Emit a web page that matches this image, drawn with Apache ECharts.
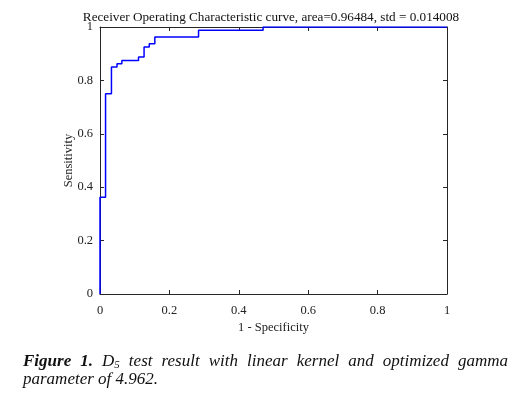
<!DOCTYPE html>
<html><head><meta charset="utf-8">
<script src="https://cdn.jsdelivr.net/npm/echarts@6/dist/echarts.min.js"></script>
<style>html,body{margin:0;padding:0;background:#fff}#c{width:519px;height:396px}</style>
</head><body><div id="c"></div>
<script>
// ROC curve corner points (1 - specificity, sensitivity)
var fpr = [0, 0, 0.016, 0.016, 0.033, 0.033, 0.049, 0.049, 0.063, 0.063, 0.111, 0.111, 0.127, 0.127, 0.142, 0.142, 0.158, 0.158, 0.284, 0.284, 0.470, 0.470, 1];
var tpr = [0, 0.3625, 0.3625, 0.75, 0.75, 0.85, 0.85, 0.8625, 0.8625, 0.875, 0.875, 0.8875, 0.8875, 0.925, 0.925, 0.9375, 0.9375, 0.9625, 0.9625, 0.9875, 0.9875, 1, 1];
var titleText = 'Receiver Operating Characteristic curve, area=0.96484, std = 0.014008';
var xName = '1 - Specificity';
var yName = 'Sensitivity';
var captionLine1 = ['Figure', '1.', 'D_5', 'test', 'result', 'with', 'linear', 'kernel', 'and', 'optimized', 'gamma'];
var captionLine2 = 'parameter of 4.962.';

var pts = fpr.map(function (x, i) { return [x, tpr[i]]; });
var serif = '"Liberation Serif", "DejaVu Serif", serif';
var axisCol = '#262626';
function fmt(v) { return String(v); }
function mkAxis(pos, show, isX) {
  return {
    type: 'value', min: 0, max: 1, interval: 0.2, position: pos,
    axisLine: { show: true, onZero: false, lineStyle: { color: axisCol, width: 1 } },
    axisTick: { show: true, inside: true, length: 4, lineStyle: { color: axisCol } },
    axisLabel: { show: show, color: '#222', fontFamily: serif, fontSize: 12.5, margin: isX ? 10 : 7,
      padding: isX ? 0 : [4, 0, 0, 0], formatter: fmt },
    splitLine: { show: false }
  };
}
var xb = mkAxis('bottom', true, true);
xb.name = xName; xb.nameLocation = 'middle'; xb.nameGap = 27; xb.nameMoveOverlap = false;
xb.nameTextStyle = { fontFamily: serif, fontSize: 12.5, color: '#222' };
var yl = mkAxis('left', true, false);
yl.name = yName; yl.nameLocation = 'middle'; yl.nameGap = 25; yl.nameMoveOverlap = false;
yl.nameTextStyle = { fontFamily: serif, fontSize: 12.5, color: '#222' };

// justified caption line 1
var FS = 17, L = 23, R = 508;
var ctx = document.createElement('canvas').getContext('2d');
function wordStyle(i) { return (i < 2 ? 'italic bold ' : 'italic ') + FS + 'px ' + serif; }
function wordWidth(w, i) {
  ctx.font = wordStyle(i);
  if (w === 'D_5') {
    var a = ctx.measureText('D').width;
    ctx.font = 'italic 11px ' + serif;
    return a + ctx.measureText('5').width;
  }
  return ctx.measureText(w).width;
}
var widths = captionLine1.map(wordWidth);
var total = widths.reduce(function (a, b) { return a + b; }, 0);
var gap = (R - L - total) / (captionLine1.length - 1);
var graphics = [];
var cx = L, y1 = 353, y2 = 371;
captionLine1.forEach(function (w, i) {
  if (w === 'D_5') {
    graphics.push({ type: 'text', x: cx, y: y1, style: { text: 'D', font: wordStyle(i), fill: '#111' } });
    ctx.font = wordStyle(i);
    var dw = ctx.measureText('D').width;
    graphics.push({ type: 'text', x: cx + dw, y: y1 + 7, style: { text: '5', font: 'italic 11px ' + serif, fill: '#111' } });
  } else {
    graphics.push({ type: 'text', x: cx, y: y1, style: { text: w, font: wordStyle(i), fill: '#111' } });
  }
  cx += widths[i] + gap;
});
graphics.push({ type: 'text', x: L, y: y2, style: { text: captionLine2, font: 'italic ' + FS + 'px ' + serif, fill: '#111' } });
graphics.push({ type: 'text', x: 271, y: 11, style: { text: titleText, font: '13.2px ' + serif, fill: '#111', textAlign: 'center' } });

var chart = echarts.init(document.getElementById('c'), null, { renderer: 'canvas' });
chart.setOption({
  animation: false,
  grid: { left: 100, right: 72, top: 27, bottom: 102 },
  xAxis: [xb, mkAxis('top', false, true)],
  yAxis: [yl, mkAxis('right', false, false)],
  series: [{
    type: 'line', data: pts, xAxisIndex: 0, yAxisIndex: 0, showSymbol: false,
    lineStyle: { color: '#0000ff', width: 1.5 }, z: 5
  }],
  graphic: graphics
});
</script></body></html>
